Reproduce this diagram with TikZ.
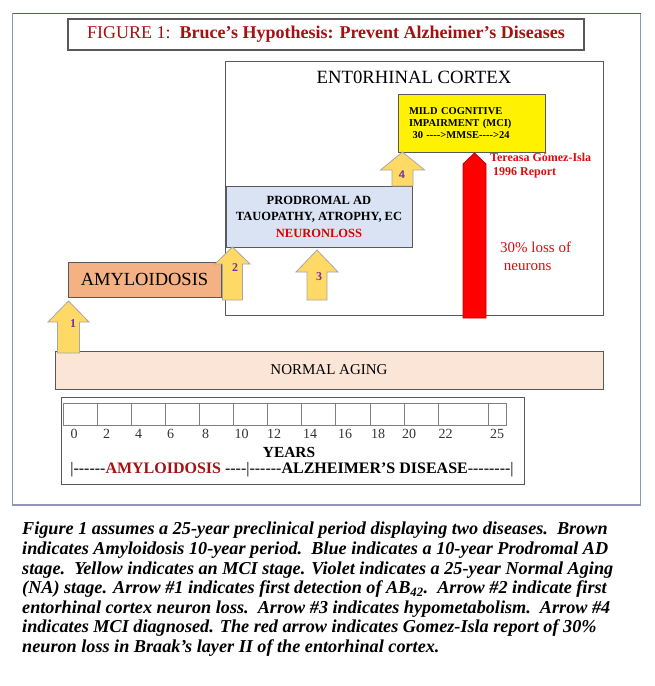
\documentclass[tikz,border=0pt]{standalone}
\usepackage{fontspec}
\setmainfont{Liberation Serif}
\newfontfamily\numfont{Liberation Sans}
\usepackage{xcolor}
\definecolor{framegray}{RGB}{140,152,180}
\definecolor{frametop}{RGB}{68,96,127}
\definecolor{titlered}{RGB}{165,16,16}
\definecolor{amylbrown}{RGB}{244,177,131}
\definecolor{prodblue}{RGB}{218,227,243}
\definecolor{agingpink}{RGB}{251,229,214}
\definecolor{arrowyellow}{RGB}{255,217,102}
\definecolor{numviolet}{RGB}{112,48,160}
\definecolor{reportred}{RGB}{220,12,12}

% block arrow pointing up: centre x, tip, head base, bottom, head half width, shaft half width
\newcommand{\blockup}[6]{%
  \draw[yarrow] (#1-#6,#4) -- (#1-#6,#3) -- (#1-#5,#3) -- (#1,#2)
    -- (#1+#5,#3) -- (#1+#6,#3) -- (#1+#6,#4) -- cycle;}

\begin{document}
\begin{tikzpicture}[x=1pt, y=-1pt,
    box/.style={draw=black!65, line width=0.8pt, inner sep=0pt},
    yarrow/.style={draw=black!35, fill=arrowyellow, line width=0.8pt},
    num/.style={text=numviolet, font=\fontsize{12}{12}\selectfont\bfseries},
    yearlbl/.style={font=\fontsize{14}{14}\selectfont, text=black!80}]
    \useasboundingbox (0,0) rectangle (654,686);

    % outer frame
    \draw[framegray, line width=1.2pt] (12.5,13.5) rectangle (640.5,505);
    \draw[frametop, line width=1.2pt] (12.5,13.5) -- (640.5,13.5);

    \node[box, line width=1.1pt, minimum width=516, minimum height=31,
        text=titlered, font=\fontsize{18}{18}\selectfont] (title) at (326,34.5)
        {FIGURE 1:\ \ \textbf{Bruce's Hypothesis: Prevent Alzheimer's Diseases}};

    % entorhinal cortex region
    \node[box, minimum width=378, minimum height=254] (ec) at (414,188.5) {};
    \node[font=\fontsize{18.7}{18.7}\selectfont] (ectitle) at (414,77) {ENT0RHINAL CORTEX};

    \node[box, fill=yellow, minimum width=147, minimum height=58, text width=125,
        align=left, font=\fontsize{10.5}{12}\selectfont\bfseries] (mci) at (471.5,123)
        {MILD COGNITIVE\\ IMPAIRMENT (MCI)\\ \ 30 -{}-{}-{}->MMSE-{}-{}-{}->24};

    \node[box, fill=prodblue, minimum width=186, minimum height=61, align=center,
        font=\fontsize{12.5}{16.5}\selectfont\bfseries] (prod) at (319,216.5)
        {PRODROMAL AD\\ TAUOPATHY, ATROPHY, EC\\ \textcolor{red!85!black}{NEURONLOSS}};

    \node[box, fill=amylbrown, minimum width=153, minimum height=35,
        font=\fontsize{18.5}{18.5}\selectfont] (amyl) at (144.5,279.5) {AMYLOIDOSIS};

    \node[box, fill=agingpink, minimum width=548, minimum height=38,
        font=\fontsize{15}{15}\selectfont] (aging) at (329,370) {NORMAL AGING};

    % yellow arrows
    \blockup{68.5}{301}{322}{353}{20.5}{11}
    \blockup{232.5}{247}{264}{300}{17.5}{10}
    \blockup{317}{250}{272}{300}{21}{10}
    \blockup{402.5}{152}{170}{186}{22}{10.5}
    \node[num] (n1) at (73,324) {1};
    \node[num] (n2) at (235,268) {2};
    \node[num] (n3) at (319,277) {3};
    \node[num, font=\fontsize{11}{11}\selectfont\numfont\bfseries] (n4) at (402,175) {4};

    % red arrow
    \draw[fill=red, draw=red!75!black, line width=0.8pt]
        (463,318) -- (463,164) -- (474.5,153) -- (486,164) -- (486,318) -- cycle;
    \node[anchor=west, text=reportred, align=left, inner sep=0pt,
        font=\fontsize{12}{14.5}\selectfont\bfseries] (report) at (490,165.5)
        {Tereasa Gómez-Isla\\ \ 1996 Report};
    \node[anchor=west, text=reportred, align=left, inner sep=0pt,
        font=\fontsize{15}{18}\selectfont] (loss) at (500,256)
        {30\% loss of\\ \ neurons};

    % time line
    \node[box, line width=1pt, minimum width=463, minimum height=87] (tl) at (292.5,441) {};
    \draw[black!50, line width=0.8pt] (63.5,403) rectangle (506.5,425);
    \foreach \xx in {97.7,131.7,165.7,199.7,233.7,267.7,301.7,335.7,370,404.3,438.3,488.3}
        \draw[black!50, line width=0.8pt] (\xx,403) -- (\xx,425);
    \foreach \xx/\lab in {74/0,106.5/2,138.5/4,170.5/6,205.5/8,241.5/10,274/12,310/14,
        345/16,378/18,409/20,445.5/22,497/25}
        \node[yearlbl] (yr\lab) at (\xx,434) {\lab};
    \node[font=\fontsize{15.4}{15.4}\selectfont\bfseries] (years) at (289,452) {YEARS};
    \node[font=\fontsize{16}{16}\selectfont] (span) at (292,470)
        {|-{}-{}-{}-{}-{}-\textcolor{titlered}{\textbf{AMYLOIDOSIS}} -{}-{}-{}-|-{}-{}-{}-{}-{}-\textbf{ALZHEIMER'S DISEASE}-{}-{}-{}-{}-{}-{}-{}-|};

    % caption
    \node[anchor=north west, align=left, inner sep=0pt,
        font=\fontsize{18.2}{19.6}\selectfont\bfseries\itshape] (caption) at (22,522)
        {Figure 1 assumes a 25-year preclinical period displaying two diseases.\ \ Brown\\
        indicates Amyloidosis 10-year period.\ \ Blue indicates a 10-year Prodromal AD\\
        stage.\ \ Yellow indicates an MCI stage. Violet indicates a 25-year Normal Aging\\
        (NA) stage. Arrow \#1 indicates first detection of AB\textsubscript{42}.\ \ Arrow \#2 indicate first\\
        entorhinal cortex neuron loss.\ \ Arrow \#3 indicates hypometabolism.\ \ Arrow \#4\\
        indicates MCI diagnosed. The red arrow indicates Gomez-Isla report of 30\%\\
        neuron loss in Braak's layer II of the entorhinal cortex.};
\end{tikzpicture}
\end{document}
